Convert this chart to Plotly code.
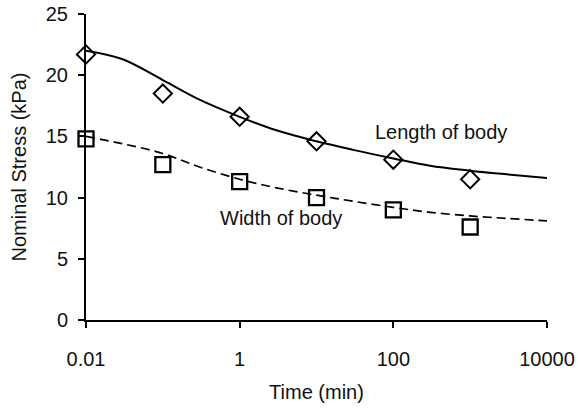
import plotly.graph_objects as go

# Measured points (time in min, nominal stress in kPa)
time_pts = [0.01, 0.1, 1, 10, 100, 1000]
length_pts = [21.7, 18.5, 16.6, 14.6, 13.1, 11.5]
width_pts = [14.8, 12.7, 11.3, 10.0, 9.0, 7.6]

# Model curves
time_fit = [0.01, 0.03, 0.1, 0.3, 1, 3, 10, 30, 100, 300, 1000, 3000, 10000]
length_fit = [22.0, 21.3, 19.6, 18.0, 16.6, 15.5, 14.6, 13.9, 13.2, 12.6, 12.2, 11.9, 11.6]
width_fit = [15.0, 14.4, 13.6, 12.5, 11.5, 10.8, 10.2, 9.7, 9.2, 8.8, 8.5, 8.3, 8.1]

tick_vals = [0.01, 1, 100, 10000]
tick_text = ["0.01", "1", "100", "10000"]

font = dict(family="Liberation Sans, Arial, sans-serif", size=20, color="#111")

fig = go.Figure()
fig.add_trace(go.Scatter(x=time_fit, y=length_fit, mode="lines", line_shape="spline",
                         line=dict(color="black", width=2), showlegend=False))
fig.add_trace(go.Scatter(x=time_fit, y=width_fit, mode="lines", line_shape="spline",
                         line=dict(color="black", width=1.7, dash="9px,5px"), showlegend=False))
fig.add_trace(go.Scatter(x=time_pts, y=length_pts, mode="markers",
                         marker=dict(symbol="diamond-open", size=14, color="black",
                                     line=dict(width=2)), showlegend=False, cliponaxis=False))
fig.add_trace(go.Scatter(x=time_pts, y=width_pts, mode="markers",
                         marker=dict(symbol="square-open", size=15, color="black",
                                     line=dict(width=2.3)), showlegend=False, cliponaxis=False))

fig.add_annotation(x=2.62, y=15.4, text="Length of body", showarrow=False,
                   xanchor="center", yanchor="middle", font=font)
fig.add_annotation(x=0.54, y=8.3, text="Width of body", showarrow=False,
                   xanchor="center", yanchor="middle", font=font)

fig.update_xaxes(type="log", range=[-2, 4], tickvals=tick_vals, ticktext=tick_text,
                 showgrid=False, zeroline=False, showline=True, linecolor="black", linewidth=2,
                 ticks="outside", ticklen=6, tickwidth=2, tickcolor="black",
                 tickfont=font, ticklabelstandoff=14, automargin=False,
                 title=dict(text="Time (min)", font=font, standoff=16))
fig.update_yaxes(range=[0, 25], dtick=5, showgrid=False, zeroline=False, showline=True,
                 linecolor="black", linewidth=2, ticks="outside", ticklen=6, tickwidth=2,
                 tickcolor="black", tickfont=font, ticklabelstandoff=6, automargin=False,
                 title=dict(text="Nominal Stress (kPa)", font=font, standoff=14))

fig.update_layout(width=578, height=412, margin=dict(l=86, r=31, t=14, b=92),
                  plot_bgcolor="white", paper_bgcolor="white", font=font)

fig.write_html("out.html")
